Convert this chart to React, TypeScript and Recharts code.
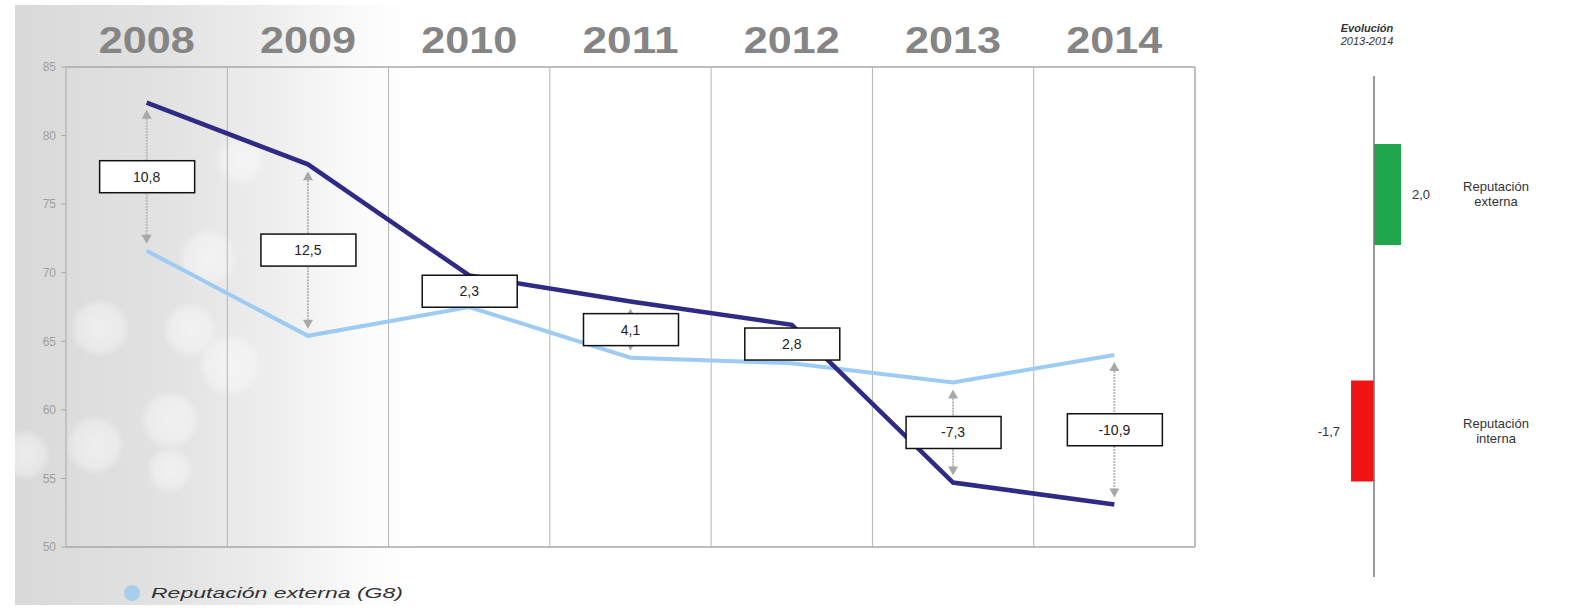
import React from 'react';
import {
    LineChart,
    Line,
    XAxis,
    YAxis,
    ReferenceLine,
    BarChart,
    Bar,
    Cell,
    LabelList,
} from 'recharts';

const years = ['2008', '2009', '2010', '2011', '2012', '2013', '2014'];
const interna = [82.4, 77.9, 69.8, 67.9, 66.2, 54.7, 53.1];
const externa = [71.6, 65.4, 67.5, 63.8, 63.4, 62.0, 64.0];
const diffs = ['10,8', '12,5', '2,3', '4,1', '2,8', '-7,3', '-10,9'];
const yTicks = [50, 55, 60, 65, 70, 75, 80, 85];

const evoNames = ['Reputación externa', 'Reputación interna'];
const evoValues = [2.0, -1.7];
const evoColors = ['#1fa64d', '#f01515'];

const data = years.map((y, i) => ({ year: y, interna: interna[i], externa: externa[i] }));
const evoData = evoNames.map((n, i) => ({ name: n, value: evoValues[i] }));

const FONT = '"Liberation Sans", Arial, sans-serif';

const YearTick = (props: any) => {
    const { x, y, payload } = props;
    return (
        <text x={x} y={y} dy={-6} textAnchor='middle' fontFamily={FONT} fontWeight='bold'
            fontSize={36} fill='#858585' textLength={96} lengthAdjust='spacingAndGlyphs'>
            {payload.value}
        </text>
    );
};

// arrow + boxed difference, drawn from the segment's viewBox
const renderDiff = (text: string) => (p: any) => {
    const vb = p.viewBox ?? p;
    const x = vb.x + (vb.width || 0) / 2;
    const top = vb.y;
    const bottom = vb.y + vb.height;
    const mid = (top + bottom) / 2;
    const gap = 7, head = 9, hw = 5;
    return (
        <g>
            <line x1={x} y1={top + gap + head} x2={x} y2={bottom - gap - head}
                stroke='#b8b8b8' strokeWidth={2} strokeDasharray='2 1' />
            <path d={`M${x},${top + gap} L${x - hw},${top + gap + head} L${x + hw},${top + gap + head} Z`} fill='#a8a8a8' />
            <path d={`M${x},${bottom - gap} L${x - hw},${bottom - gap - head} L${x + hw},${bottom - gap - head} Z`} fill='#a8a8a8' />
            <rect x={x - 47} y={mid - 16} width={95} height={32} fill='#fff' stroke='#111' strokeWidth={1.5} />
            <text x={x} y={mid + 5} textAnchor='middle' fontFamily={FONT} fontSize={14} fill='#222'>{text}</text>
        </g>
    );
};

const EvoTick = (props: any) => {
    const { x, y, payload } = props;
    const [a, b] = String(payload.value).split(' ');
    const cx = x + 33;
    return (
        <text x={cx} y={y} textAnchor='middle' fontFamily={FONT} fontSize={13} fill='#333'>
            <tspan x={cx} dy={-3}>{a}</tspan>
            <tspan x={cx} dy={15}>{b}</tspan>
        </text>
    );
};

const bokeh = [
    [100, 328, 30], [230, 365, 32], [170, 420, 30], [95, 445, 30], [208, 258, 30],
    [190, 330, 28], [25, 455, 26], [240, 160, 26], [170, 470, 24],
];

const App: React.FC = () => {
    const bg = [
        ...bokeh.map(([x, y, r]) => `radial-gradient(circle at ${x - 15}px ${y - 5}px, rgba(255,255,255,0.5) 0, rgba(255,255,255,0.35) ${r - 8}px, rgba(255,255,255,0) ${r}px)`),
        'linear-gradient(to right, #d9d9d9 0px, #e2e2e2 150px, #eeeeee 260px, #fafafa 340px, #ffffff 400px)',
    ].join(', ');

    return (
        <div style={{ position: 'absolute', left: 0, top: 0, width: 1596, height: 610, background: '#fff', fontFamily: FONT, overflow: 'hidden' }}>
            <div style={{ position: 'absolute', left: 15, top: 5, width: 620, height: 600, background: bg }} />

            <div style={{ position: 'absolute', left: 0, top: 0 }}>
                <LineChart width={1215} height={610} data={data}
                    margin={{ top: 27, right: 20, bottom: 63, left: 26 }}>
                    <XAxis dataKey='year' orientation='top' scale='band' height={40}
                        axisLine={{ stroke: '#a8a8a8', strokeWidth: 1.5 }} tickLine={false} tick={<YearTick />} interval={0} />
                    <YAxis domain={[50, 85]} ticks={yTicks} width={40} tickSize={5} tickMargin={5}
                        axisLine={{ stroke: '#a8a8a8' }} tickLine={{ stroke: '#a8a8a8' }}
                        tick={{ fill: '#a0a0a0', fontSize: 12, fontFamily: FONT }} />
                    {years.slice(1).map((y) => (
                        <ReferenceLine key={'g' + y} x={y} position='start' stroke='#b5b5b5' />
                    ))}
                    <ReferenceLine x='2014' position='end' stroke='#a8a8a8' strokeWidth={1.5} />
                    <ReferenceLine y={50} stroke='#a8a8a8' strokeWidth={1.5} />
                    <Line type='linear' dataKey='externa' stroke='#9dcbf4' strokeWidth={4} dot={false} isAnimationActive={false} />
                    <Line type='linear' dataKey='interna' stroke='#2e2a85' strokeWidth={4.5} dot={false} isAnimationActive={false} />
                    {years.map((y, i) => (
                        <ReferenceLine key={'d' + y} stroke='none'
                            segment={[{ x: y, y: interna[i] }, { x: y, y: externa[i] }]}
                            label={renderDiff(diffs[i])} />
                    ))}
                </LineChart>
            </div>

            <div style={{ position: 'absolute', left: 124, top: 584 }}>
                <svg width={300} height={20}>
                    <circle cx={8} cy={9} r={8} fill='#a9cdec' />
                    <text x={27} y={14} fontFamily={FONT} fontStyle='italic' fontSize={15} fill='#333'
                        textLength={252} lengthAdjust='spacingAndGlyphs'>Reputación externa (G8)</text>
                </svg>
            </div>

            <div style={{ position: 'absolute', left: 1300, top: 22, width: 134, textAlign: 'center', fontSize: 11, color: '#333', fontStyle: 'italic', lineHeight: '13px' }}>
                <div style={{ fontWeight: 'bold' }}>Evolución</div>
                <div>2013-2014</div>
            </div>

            <div style={{ position: 'absolute', left: 1250, top: 0 }}>
                <BarChart width={346} height={610} data={evoData} layout='vertical'
                    margin={{ top: 76, right: 41, bottom: 33, left: 43 }}>
                    <XAxis type='number' domain={[-6, 6]} hide />
                    <YAxis type='category' dataKey='name' orientation='right' width={100}
                        axisLine={false} tickLine={false} tick={<EvoTick />} padding={{ top: 0, bottom: 28 }} />
                    <Bar dataKey='value' barSize={101} isAnimationActive={false}>
                        {evoData.map((d, i) => <Cell key={d.name} fill={evoColors[i]} />)}
                        <LabelList dataKey='value' position='right' offset={11} fontSize={13} fill='#333'
                            fontFamily={FONT} formatter={(v: any) => Number(v).toFixed(1).replace('.', ',')} />
                    </Bar>
                    <ReferenceLine x={0} stroke='#777' strokeWidth={1.5} />
                </BarChart>
            </div>
        </div>
    );
};

export default App;
